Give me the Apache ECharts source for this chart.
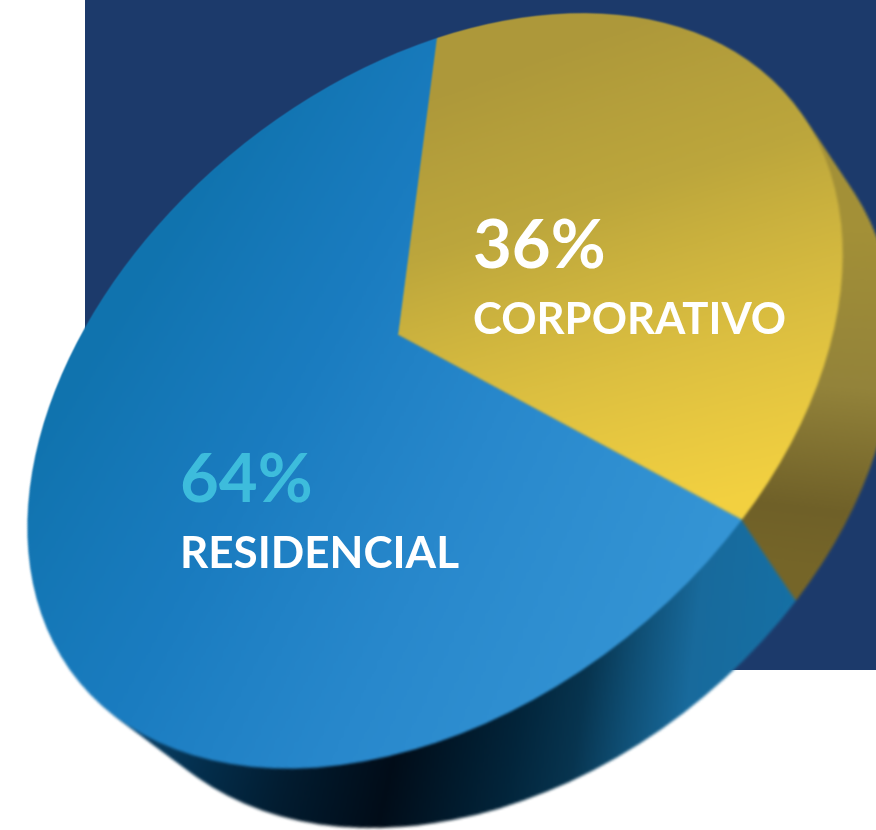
<!DOCTYPE html>
<html>
<head>
<meta charset="utf-8">
<style>
  html, body { margin: 0; background: #fff; overflow: hidden; }
  #page { position: relative; width: 876px; height: 830px; overflow: hidden; }
  .layer { position: absolute; left: 0; top: 0; }
</style>
<script src="https://cdn.jsdelivr.net/npm/echarts@6/dist/echarts.min.js"></script>
</head>
<body>
<div id="page">
  <div id="back" class="layer" style="width:876px;height:830px"></div>
  <div id="pie" class="layer" style="width:1300px;height:1300px"></div>
  <div id="front" class="layer" style="width:876px;height:830px"></div>
</div>
<script>
const categories = ['CORPORATIVO', 'RESIDENCIAL']
const values = [36, 64]
const FONT = 'Lato'

// local circle of the pie chart before the tilt
const cx = 550, cy = 550, r = 450
// where the slice edges land on the page: start/end of the small slice and their opposites
const tilt = { a: [437, 38], b: [742, 520], c: [342, 765], d: [170, 212] }
// three page points on the underside of the pie, and where the two side colours meet there
const under = [[876, 235], [383, 828], [184, 767]]
const sideTip = [795, 600]
const layers = 90

function solve(m, v) {
  const n = v.length
  const a = m.map((row, i) => row.concat(v[i]))
  for (let i = 0; i < n; i++) {
    let p = i
    for (let j = i + 1; j < n; j++) if (Math.abs(a[j][i]) > Math.abs(a[p][i])) p = j
    const t = a[i]; a[i] = a[p]; a[p] = t
    for (let j = 0; j < n; j++) {
      if (j === i) continue
      const f = a[j][i] / a[i][i]
      for (let k = i; k <= n; k++) a[j][k] -= f * a[i][k]
    }
  }
  return a.map((row, i) => row[n] / row[i])
}

const sweep = values[0] / (values[0] + values[1]) * Math.PI * 2
const sx = Math.sin(sweep) * r, sy = -Math.cos(sweep) * r
const src = [[cx, cy - r], [cx + sx, cy + sy], [cx, cy + r], [cx - sx, cy - sy]]
const dst = [tilt.a, tilt.b, tilt.c, tilt.d]
const rows = [], rhs = []
src.forEach((p, i) => {
  const q = dst[i]
  rows.push([p[0], p[1], 1, 0, 0, 0, -p[0] * q[0], -p[1] * q[0]]); rhs.push(q[0])
  rows.push([0, 0, 0, p[0], p[1], 1, -p[0] * q[1], -p[1] * q[1]]); rhs.push(q[1])
})
const h = solve(rows, rhs)

// page position -> position inside the untilted chart
function toLocal(x, y) {
  return solve([[h[0] - h[6] * x, h[1] - h[7] * x], [h[3] - h[6] * y, h[4] - h[7] * y]], [x - h[2], y - h[5]])
}

const pieDom = document.getElementById('pie')
pieDom.style.transformOrigin = '0 0'
pieDom.style.transform = 'matrix3d(' + [h[0], h[3], 0, h[6], h[1], h[4], 0, h[7], 0, 0, 1, 0, h[2], h[5], 0, 1].join(',') + ')'
pieDom.style.filter = 'blur(0.8px)'

function gradient(x0, y0, x1, y1, stops) {
  const p0 = toLocal(x0, y0), p1 = toLocal(x1, y1)
  return {
    type: 'linear', global: true, x: p0[0], y: p0[1], x2: p1[0], y2: p1[1],
    colorStops: stops.map(s => ({ offset: s[0], color: s[1] }))
  }
}

const topColors = [
  gradient(610, 30, 640, 520, [[0, '#ad983a'], [0.4, '#bca63c'], [0.75, '#dcbf40'], [1, '#f2d040']]),
  gradient(60, 400, 720, 520, [[0, '#1073ae'], [0.4, '#1a7cc0'], [0.7, '#2888cc'], [1, '#3494d4']])
]
const wallColors = [
  gradient(860, 230, 760, 560, [[0, '#a39037'], [0.5, '#93833a'], [0.85, '#6f6028'], [1, '#756528']]),
  gradient(100, 700, 800, 700, [[0, '#0f4f7c'], [0.2, '#04304f'], [0.35, '#021c30'], [0.5, '#010c18'], [0.66, '#02243a'], [0.74, '#07344f'], [0.8, '#0f4f75'], [0.87, '#186a9c'], [1, '#1570a5']])
]

// circle through the three underside points, in chart coordinates
const u = under.map(p => toLocal(p[0], p[1]))
const uc = solve([
  [2 * (u[1][0] - u[0][0]), 2 * (u[1][1] - u[0][1])],
  [2 * (u[2][0] - u[0][0]), 2 * (u[2][1] - u[0][1])]
], [
  u[1][0] * u[1][0] + u[1][1] * u[1][1] - u[0][0] * u[0][0] - u[0][1] * u[0][1],
  u[2][0] * u[2][0] + u[2][1] * u[2][1] - u[0][0] * u[0][0] - u[0][1] * u[0][1]
])
const ur = Math.hypot(u[0][0] - uc[0], u[0][1] - uc[1])
// turn the underside a little so the colour border runs to sideTip
const tip = toLocal(sideTip[0], sideTip[1])
const turn = (Math.atan2(tip[0] - uc[0], uc[1] - tip[1]) - sweep) * 180 / Math.PI

function pieLayer(k, colors) {
  return {
    type: 'pie',
    silent: true,
    animation: false,
    startAngle: 90 - turn * k,
    radius: [0, r + (ur - r) * k],
    center: [cx + (uc[0] - cx) * k, cy + (uc[1] - cy) * k],
    label: { show: false },
    labelLine: { show: false },
    data: categories.map((name, i) => ({ name, value: values[i], itemStyle: { color: colors[i] } }))
  }
}

const series = []
for (let i = layers; i >= 1; i--) series.push(pieLayer(i / layers, wallColors))
series.push(pieLayer(0, topColors))
echarts.init(pieDom).setOption({ series })

echarts.init(document.getElementById('back')).setOption({
  animation: false,
  graphic: [{ type: 'rect', silent: true, shape: { x: 85, y: 0, width: 791, height: 670 }, style: { fill: '#1c3a6b' } }]
})

function text(x, y, str, size, weight, fill) {
  return {
    type: 'text', silent: true, x, y,
    style: { text: str, fill, fontFamily: FONT, fontSize: size, fontWeight: weight }
  }
}

echarts.init(document.getElementById('front')).setOption({
  animation: false,
  graphic: [
    text(473, 213, values[0] + '%', 67, 700, '#fff'),
    text(473, 298, categories[0], 43.7, 700, '#fff'),
    text(180, 447, values[1] + '%', 67, 700, '#3dbcdc'),
    text(180, 532, categories[1], 44, 700, '#fff')
  ]
})
</script>
</body>
</html>
